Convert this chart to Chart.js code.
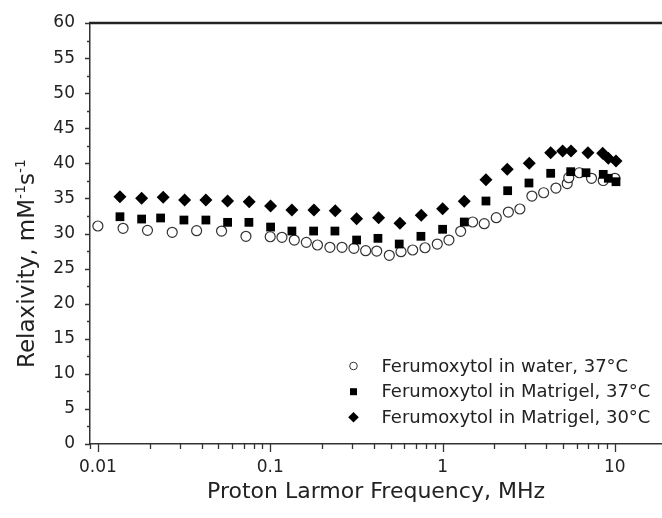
<!DOCTYPE html>
<html><head><meta charset="utf-8">
<script src="https://cdn.jsdelivr.net/npm/chart.js@4/dist/chart.umd.min.js"></script>
<style>html,body{margin:0;padding:0;background:#fff;overflow:hidden}canvas{display:block}</style>
</head><body>
<canvas id="c" width="662" height="518" style="width:662px;height:518px"></canvas>
<script>
// Ferumoxytol in water, 37°C (open circles)
const waterX = [0.0100, 0.0140, 0.0194, 0.0270, 0.0374, 0.0522, 0.0723, 0.100, 0.117, 0.138, 0.162, 0.188, 0.222, 0.261, 0.306, 0.358, 0.415, 0.491, 0.574, 0.671, 0.791, 0.932, 1.089, 1.274, 1.495, 1.746, 2.05, 2.41, 2.81, 3.30, 3.86, 4.55, 5.29, 5.40, 6.22, 7.32, 8.56, 10.0];
const waterY = [31.07, 30.74, 30.45, 30.17, 30.40, 30.35, 29.60, 29.54, 29.46, 29.07, 28.74, 28.36, 28.03, 28.03, 27.89, 27.55, 27.50, 26.89, 27.41, 27.65, 27.97, 28.50, 29.07, 30.31, 31.64, 31.40, 32.25, 33.06, 33.49, 35.34, 35.81, 36.48, 37.12, 37.95, 38.66, 37.87, 37.55, 37.87];
// Ferumoxytol in Matrigel, 37°C (filled squares)
const mat37X = [0.01343, 0.01794, 0.02312, 0.03157, 0.04234, 0.05658, 0.07522, 0.1005, 0.1336, 0.1786, 0.2374, 0.3172, 0.4218, 0.5606, 0.7491, 1.001, 1.337, 1.786, 2.387, 3.173, 4.241, 5.54, 6.80, 8.56, 9.16, 10.15];
const mat37Y = [32.39, 32.06, 32.21, 31.92, 31.92, 31.59, 31.59, 30.92, 30.35, 30.35, 30.35, 29.07, 29.31, 28.50, 29.60, 30.60, 31.64, 34.63, 36.10, 37.20, 38.58, 38.81, 38.66, 38.43, 37.87, 37.38];
// Ferumoxytol in Matrigel, 30°C (filled diamonds)
const mat30X = [0.01343, 0.01794, 0.02393, 0.03186, 0.04234, 0.05658, 0.07552, 0.1005, 0.1336, 0.1793, 0.2384, 0.3172, 0.4257, 0.5658, 0.7522, 1.001, 1.337, 1.786, 2.374, 3.186, 4.241, 4.977, 5.563, 6.98, 8.50, 9.16, 10.15];
const mat30Y = [35.24, 35.01, 35.16, 34.77, 34.77, 34.63, 34.53, 33.92, 33.35, 33.35, 33.25, 32.11, 32.25, 31.45, 32.59, 33.53, 34.59, 37.67, 39.15, 40.00, 41.51, 41.76, 41.76, 41.51, 41.43, 40.72, 40.33];

const xTickValues = [0.01, 0.1, 1, 10];
const xTickLabels = ['0.01', '0.1', '1', '10'];
const yTickValues = [0, 5, 10, 15, 20, 25, 30, 35, 40, 45, 50, 55, 60];
const legendLabels = ['Ferumoxytol in water, 37°C', 'Ferumoxytol in Matrigel, 37°C', 'Ferumoxytol in Matrigel, 30°C'];
const xTitle = 'Proton Larmor Frequency, MHz';
const yTitleParts = ['Relaxivity, mM', '-1', 's', '-1'];

const FONT = "'DejaVu Sans', sans-serif";
Chart.defaults.font.family = FONT;
Chart.defaults.color = '#222';

const toPts = (xs, ys) => xs.map((v, i) => ({x: v, y: ys[i]}));

const decor = {
  id: 'decor',
  afterDraw(chart) {
    const {ctx, chartArea: a, scales: {x, y}} = chart;
    ctx.save();
    // top frame line
    ctx.strokeStyle = '#222'; ctx.lineWidth = 2.5;
    ctx.beginPath(); ctx.moveTo(a.left - 1, a.top); ctx.lineTo(chart.width, a.top); ctx.stroke();
    // tick marks
    ctx.strokeStyle = '#333'; ctx.lineWidth = 1.3;
    ctx.beginPath();
    for (let e = -3; e <= 2; e++) {
      for (let k = 1; k <= 9; k++) {
        const v = k * Math.pow(10, e);
        if (v < x.min * 0.999 || v > x.max) continue;
        const px = Math.round(x.getPixelForValue(v)) + 0.5;
        const len = k === 1 ? 8 : 5;
        ctx.moveTo(px, a.bottom); ctx.lineTo(px, a.bottom + len);
      }
    }
    for (let v = y.min; v <= y.max; v += 2.5) {
      const py = Math.round(y.getPixelForValue(v)) + 0.5;
      const len = v % 5 === 0 ? 5 : 3;
      ctx.moveTo(a.left, py); ctx.lineTo(a.left - len, py);
    }
    ctx.stroke();

    // y axis title with superscripts
    ctx.save();
    ctx.translate(33.5, 368);
    ctx.rotate(-Math.PI / 2);
    ctx.fillStyle = '#222';
    ctx.textBaseline = 'alphabetic';
    ctx.textAlign = 'left';
    let cx = 0;
    const big = '23px ' + FONT, small = '14px ' + FONT;
    yTitleParts.forEach((t, i) => {
      const sup = i % 2 === 1;
      ctx.font = sup ? small : big;
      ctx.fillText(t, cx, sup ? -9 : 0);
      cx += ctx.measureText(t).width;
    });
    ctx.restore();

    // legend
    const rows = [366, 391.7, 417.3];
    const mx = 353.5;
    ctx.font = '18px ' + FONT;
    ctx.textBaseline = 'middle';
    ctx.textAlign = 'left';
    rows.forEach((ry, i) => {
      ctx.fillStyle = '#000';
      ctx.beginPath();
      if (i === 0) {
        ctx.arc(mx, ry, 3.8, 0, Math.PI * 2);
        ctx.fillStyle = '#fff'; ctx.fill();
        ctx.strokeStyle = '#333'; ctx.lineWidth = 1; ctx.stroke();
      } else if (i === 1) {
        ctx.rect(mx - 3.5, ry - 3.5, 7, 7); ctx.fill();
      } else {
        ctx.moveTo(mx - 5.3, ry); ctx.lineTo(mx, ry - 5.3); ctx.lineTo(mx + 5.3, ry); ctx.lineTo(mx, ry + 5.3);
        ctx.closePath(); ctx.fill();
      }
      ctx.fillStyle = '#222';
      ctx.fillText(legendLabels[i], 381.5, ry + 1);
    });
    ctx.restore();
  }
};

new Chart(document.getElementById('c'), {
  type: 'scatter',
  data: {
    datasets: [
      {label: legendLabels[2], data: toPts(mat30X, mat30Y), pointStyle: 'rectRot', pointRadius: 6.5,
       backgroundColor: '#000', borderColor: '#000', borderWidth: 0},
      {label: legendLabels[1], data: toPts(mat37X, mat37Y), pointStyle: 'rect', pointRadius: 6.2,
       backgroundColor: '#000', borderColor: '#000', borderWidth: 0},
      {label: legendLabels[0], data: toPts(waterX, waterY), pointStyle: 'circle', pointRadius: 5,
       backgroundColor: '#fff', borderColor: '#333', borderWidth: 1.2}
    ]
  },
  options: {
    responsive: false,
    devicePixelRatio: 1,
    animation: false,
    events: [],
    layout: {autoPadding: false, padding: {top: 23, left: 0, right: 0, bottom: 0}},
    plugins: {legend: {display: false}, tooltip: {enabled: false}},
    scales: {
      x: {
        type: 'logarithmic',
        position: 'bottom',
        min: 0.009,
        max: 18.77,
        bounds: 'data',
        grid: {display: false, drawTicks: false},
        border: {display: true, color: '#333', width: 1.5},
        afterBuildTicks: s => { s.ticks = xTickValues.map(v => ({value: v})); },
        afterFit: s => { s.height = 74; s.paddingLeft = 0; s.paddingRight = 0; },
        ticks: {
          autoSkip: false, maxRotation: 0, padding: 13,
          font: {size: 17}, color: '#222',
          callback: (v) => { const i = xTickValues.indexOf(v); return i >= 0 ? xTickLabels[i] : ''; }
        },
        title: {display: true, text: xTitle, font: {size: 22}, color: '#222', padding: {top: 0, bottom: 13}}
      },
      y: {
        type: 'linear',
        position: 'left',
        min: 0,
        max: 60,
        grid: {display: false, drawTicks: false},
        border: {display: true, color: '#333', width: 1.5},
        afterBuildTicks: s => { s.ticks = yTickValues.map(v => ({value: v})); },
        afterFit: s => { s.width = 90; s.paddingTop = 0; s.paddingBottom = 0; },
        ticks: {padding: 15, font: {size: 17}, color: '#222'}
      }
    }
  },
  plugins: [decor]
});
</script>
</body></html>
